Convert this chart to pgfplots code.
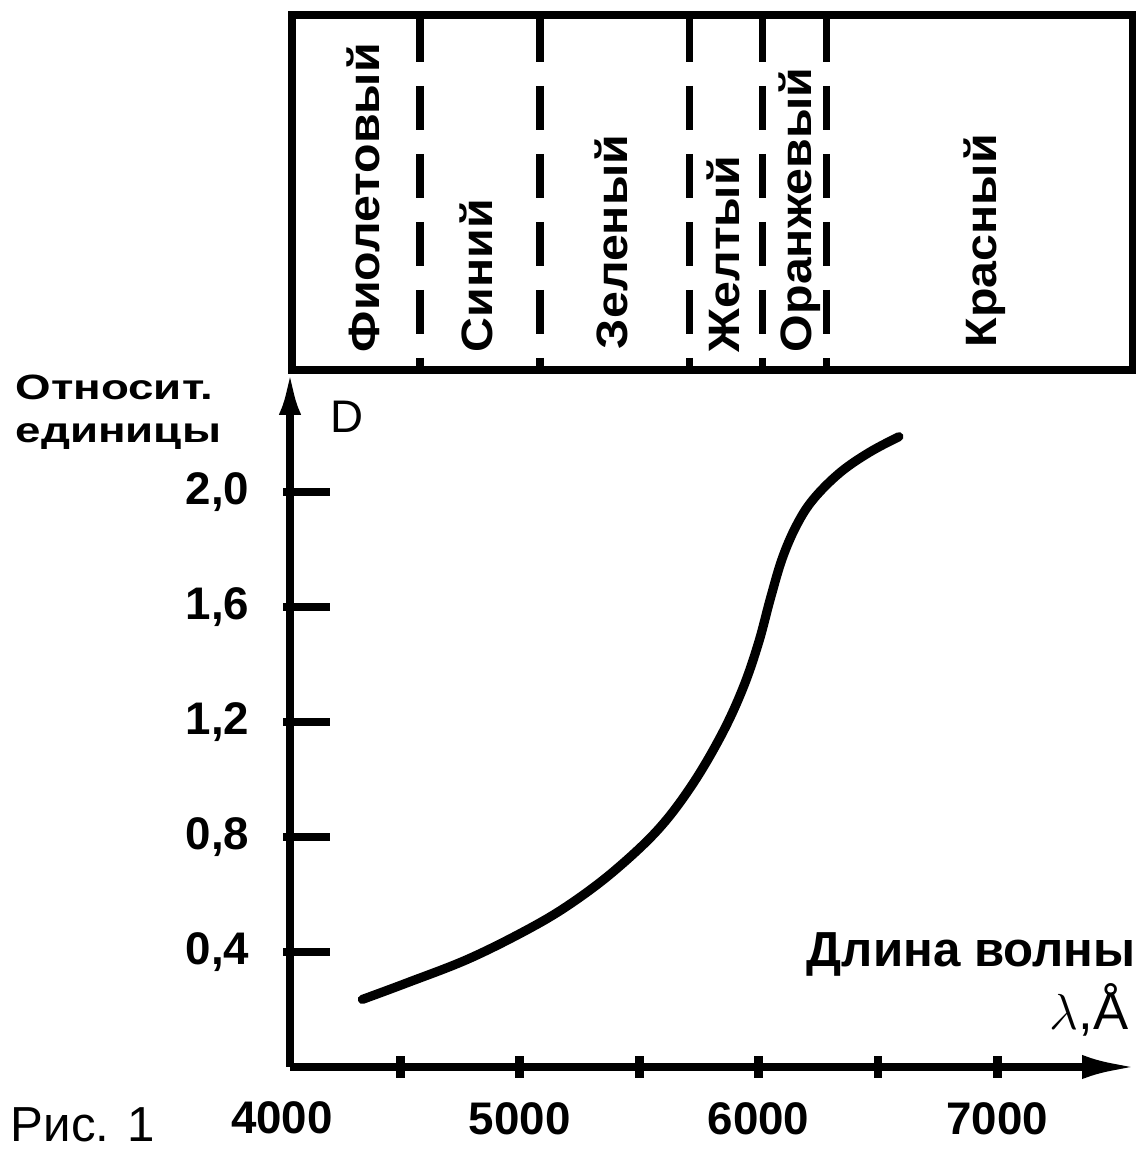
\documentclass[border=0pt]{standalone}
\usepackage{fontspec}
\setmainfont{Liberation Sans}
\usepackage{graphicx}
\usepackage{pgfplots}
\pgfplotsset{compat=1.18}
\usetikzlibrary{arrows.meta}

% D(lambda)
\pgfplotstableread{
lambda D
4341 0.235
4526 0.292
4791 0.378
5055 0.488
5231 0.578
5407 0.690
5584 0.830
5725 0.985
5848 1.160
5936 1.320
6000 1.475
6050 1.630
6100 1.770
6160 1.885
6230 1.975
6341 2.067
6465 2.138
6588 2.192
}\curve

\newcommand{\lbl}[1]{\scalebox{1.1}[1]{\bfseries\fontsize{12.5}{14}\selectfont #1}}

\begin{document}
\begin{tikzpicture}
\useasboundingbox (0,0) rectangle (11.44cm,11.64cm);
\begin{axis}[
  at={(2.90cm,0.97cm)}, anchor=south west,
  scale only axis, width=8.47cm, height=6.97cm,
  xmin=4038, xmax=7585, ymin=0, ymax=2.424,
  clip=false,
  axis x line=bottom, axis y line=left,
  axis line style={line width=2.2pt, black},
  x axis line style={-{Latex[length=0.55cm,width=0.24cm]}},
  y axis line style={-{Latex[length=0.45cm,width=0.22cm]}},
  tick align=inside,
  major tick length=0.47cm,
  every tick/.append style={black},
  xtick={4500,5000,...,7000},
  xticklabels={,5000,,6000,,7000},
  ytick={0.4,0.8,1.2,1.6,2.0},
  xtick style={/pgfplots/major tick length=0.22cm, yshift=-0.11cm, line width=2.5pt, black},
  ytick style={xshift=-0.07cm, line width=2.5pt, black},
  ticklabel style={font=\bfseries\fontsize{13}{15}\selectfont},
  xticklabel style={anchor=north, inner sep=0pt, yshift=-0.35cm},
  yticklabel style={anchor=east, inner sep=0pt, xshift=-0.40cm,
    /pgf/number format/.cd, use comma, fixed, fixed zerofill, precision=1, assume math mode=true},
  scaled ticks=false,
]
\addplot[line width=2.6pt, smooth, tension=0.6, no marks, line cap=round] table {\curve};
\end{axis}

% pixel frame of the reference (origin top left)
\begin{scope}[x=0.01cm, y=-0.01cm, shift={(0,11.64cm)}]
  \draw[line width=2.2pt] (292,370) -- (292,15) -- (1133,15) -- (1133,370) -- cycle;
  \foreach \px in {420,540,690,763,827}
    \draw[line width=2.2pt, dash pattern=on 0.44cm off 0.24cm] (\px,18) -- (\px,368);
  \node[rotate=90, anchor=base west, inner sep=0pt] at (380,353) {\lbl{Фиолетовый}};
  \node[rotate=90, anchor=base west, inner sep=0pt] at (493,353) {\lbl{Синий}};
  \node[rotate=90, anchor=base west, inner sep=0pt] at (628,350) {\lbl{Зеленый}};
  \node[rotate=90, anchor=base west, inner sep=0pt] at (740,353) {\lbl{Желтый}};
  \node[rotate=90, anchor=base west, inner sep=0pt] at (812,353) {\lbl{Оранжевый}};
  \node[rotate=90, anchor=base west, inner sep=0pt] at (997,348) {\lbl{Красный}};

  \node[anchor=base west, inner sep=0pt] at (15,400)
    {\scalebox{1.3}[1]{\bfseries\fontsize{10}{12}\selectfont Относит.}};
  \node[anchor=base west, inner sep=0pt] at (15,443)
    {\scalebox{1.3}[1]{\bfseries\fontsize{10}{12}\selectfont единицы}};
  \node[anchor=base west, inner sep=0pt, font=\fontsize{13}{15}\selectfont] at (330,433) {D};

  \node[anchor=base east, inner sep=0pt, font=\bfseries\fontsize{14}{16}\selectfont] at (1137,967) {Длина волны};
  \node[anchor=base east, inner sep=0pt, font=\fontsize{15}{17}\selectfont] at (1130,1030) {$\lambda$,Å};

  \node[anchor=north, inner sep=0pt, font=\bfseries\fontsize{13}{15}\selectfont] at (282,1102) {4000};
  \node[anchor=north west, inner sep=0pt, font=\fontsize{14}{16}\selectfont] at (10,1108) {Рис. 1};
\end{scope}
\end{tikzpicture}
\end{document}
